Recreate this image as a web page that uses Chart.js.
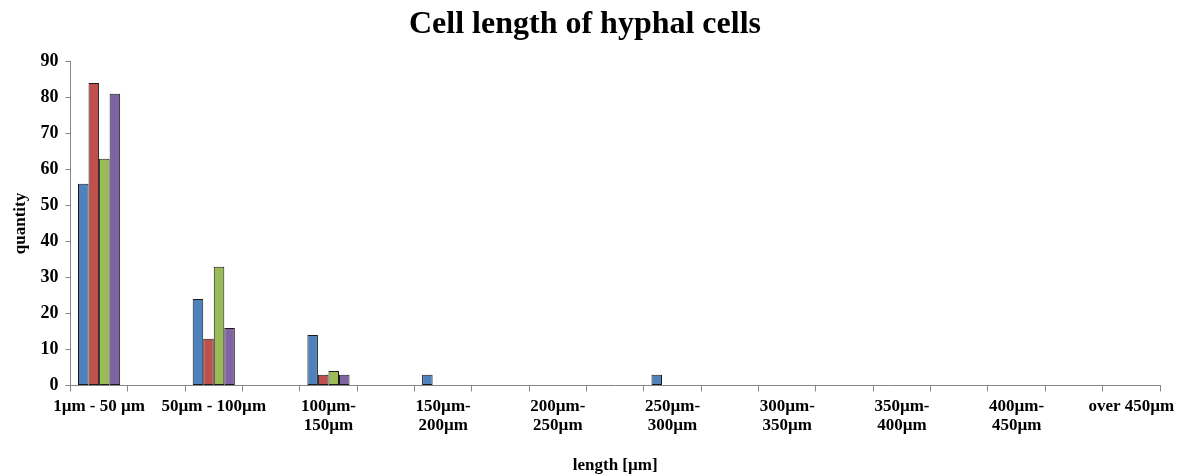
<!DOCTYPE html>
<html>
<head>
<meta charset="utf-8">
<script src="https://cdn.jsdelivr.net/npm/chart.js@4/dist/chart.umd.min.js"></script>
<style>
  html, body { margin: 0; padding: 0; background: #fff; }
  #wrap { width: 1184px; height: 476px; }
</style>
</head>
<body>
<div id="wrap"><canvas id="c" width="1184" height="476"></canvas></div>
<script>
const categories = [
  "1µm - 50 µm", "", "50µm - 100µm", "", ["100µm-", "150µm"], "",
  ["150µm-", "200µm"], "", ["200µm-", "250µm"], "", ["250µm-", "300µm"], "",
  ["300µm-", "350µm"], "", ["350µm-", "400µm"], "", ["400µm-", "450µm"], "", "over 450µm"
];
const series1 = [56, null, 24, null, 14, null, 3, null, 0, null, 3, null, 0, null, 0, null, 0, null, 0];
const series2 = [84, null, 13, null, 3, null, 0, null, 0, null, 0, null, 0, null, 0, null, 0, null, 0];
const series3 = [63, null, 33, null, 4, null, 0, null, 0, null, 0, null, 0, null, 0, null, 0, null, 0];
const series4 = [81, null, 16, null, 3, null, 0, null, 0, null, 0, null, 0, null, 0, null, 0, null, 0];
const yTicks = [0, 10, 20, 30, 40, 50, 60, 70, 80, 90];

const FONT = "'Liberation Serif', 'Times New Roman', serif";
const AXIS = '#868686';

function ds(label, data, color) {
  return {
    label, data, backgroundColor: color, borderColor: '#1a1a1a', borderWidth: 1,
    borderSkipped: false, categoryPercentage: 0.735, barPercentage: 1.0
  };
}

new Chart(document.getElementById('c'), {
  type: 'bar',
  data: {
    labels: categories,
    datasets: [
      ds('Series 1', series1, '#4F81BD'),
      ds('Series 2', series2, '#C0504D'),
      ds('Series 3', series3, '#9BBB59'),
      ds('Series 4', series4, '#8064A2')
    ]
  },
  options: {
    responsive: false,
    animation: false,
    layout: { padding: { left: 10, right: 24, top: 4, bottom: 0 } },
    plugins: {
      legend: { display: false },
      tooltip: { enabled: false },
      title: {
        display: true,
        text: 'Cell length of hyphal cells',
        color: '#000',
        font: { family: FONT, size: 32, weight: 'bold' },
        padding: { top: 2, bottom: 17 }
      }
    },
    scales: {
      x: {
        offset: true,
        grid: { display: true, drawOnChartArea: false, drawTicks: true, tickLength: 6, color: AXIS, offset: true },
        border: { display: true, color: AXIS, width: 1 },
        ticks: {
          autoSkip: false, maxRotation: 0, minRotation: 0, color: '#000', padding: 6,
          font: { family: FONT, size: 17, weight: 'bold', lineHeight: 1.12 }
        },
        title: {
          display: true, text: 'length [µm]', color: '#000',
          font: { family: FONT, size: 17, weight: 'bold' },
          padding: { top: 14, bottom: 0 }
        }
      },
      y: {
        min: 0, max: 90,
        afterBuildTicks: (axis) => { axis.ticks = yTicks.map(v => ({ value: v })); },
        grid: { display: true, drawOnChartArea: false, drawTicks: true, tickLength: 5, color: AXIS },
        border: { display: true, color: AXIS, width: 1 },
        ticks: {
          color: '#000', padding: 7,
          font: { family: FONT, size: 18, weight: 'bold' }
        },
        title: {
          display: true, text: 'quantity', color: '#000',
          font: { family: FONT, size: 17, weight: 'bold' },
          padding: { top: 0, bottom: 3 }
        }
      }
    }
  }
});
</script>
</body>
</html>
